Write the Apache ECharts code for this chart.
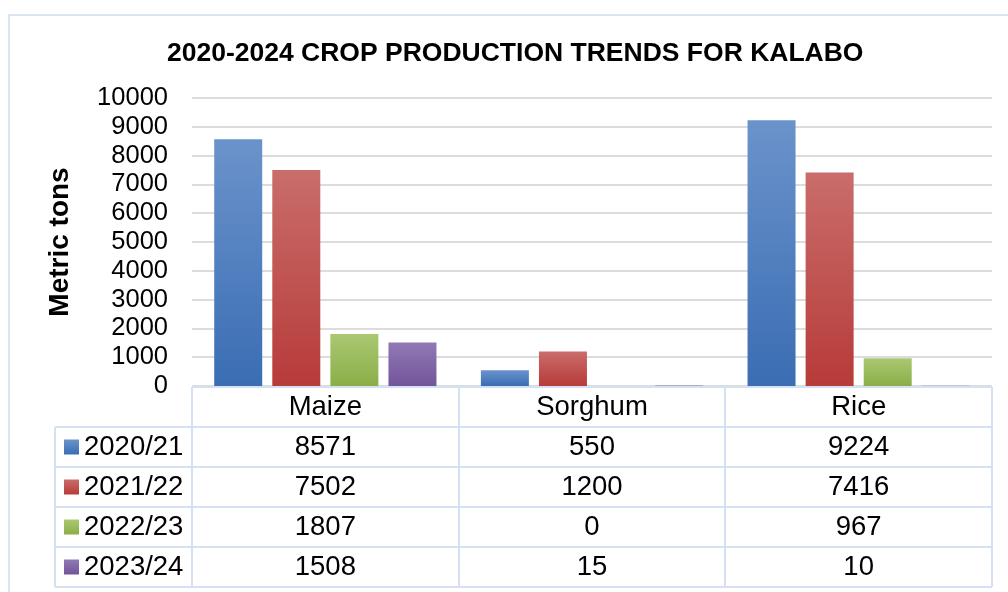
<!DOCTYPE html>
<html>
<head>
<meta charset="utf-8">
<script src="https://cdn.jsdelivr.net/npm/echarts@6/dist/echarts.min.js"></script>
<style>
  html, body { margin: 0; padding: 0; background: #fff; }
  #main { width: 1008px; height: 592px; }
</style>
</head>
<body>
<div id="main"></div>
<script>
// data
const crops = ['Maize', 'Sorghum', 'Rice']
const seasons = ['2020/21', '2021/22', '2022/23', '2023/24']
const season2020 = [8571, 550, 9224]
const season2021 = [7502, 1200, 7416]
const season2022 = [1807, 0, 967]
const season2023 = [1508, 15, 10]
const yMin = 0
const yMax = 10000
const yStep = 1000

const values = [season2020, season2021, season2022, season2023]
const topColors = ['#6b93cb', '#c96d6b', '#aac872', '#9079b5']
const bottomColors = ['#3a6db3', '#b73b39', '#8bae47', '#74549a']

const font = 'Liberation Sans, Arial, sans-serif'
const lineColor = '#d4e1f2'

// table geometry
const plotLeft = 192
const plotRight = 992
const tableTop = 387
const rowH = 40
const legendLeft = 55
const colW = (plotRight - plotLeft) / crops.length

const grad = (i) => new echarts.graphic.LinearGradient(0, 0, 0, 1, [
  { offset: 0, color: topColors[i] },
  { offset: 1, color: bottomColors[i] }
])

const graphics = []
// outer frame
graphics.push({
  type: 'rect', shape: { x: 9, y: 15, width: 1010, height: 600 },
  style: { fill: 'none', stroke: '#dae5f3', lineWidth: 2 }
})
const line = (x1, y1, x2, y2) => ({
  type: 'line', shape: { x1, y1, x2, y2 },
  style: { stroke: lineColor, lineWidth: 2 }, z: 10
})
graphics.push(line(plotLeft, tableTop, plotRight, tableTop))
for (let r = 1; r <= seasons.length + 1; r++) {
  const y = tableTop + r * rowH
  graphics.push(line(legendLeft, y, plotRight, y))
}
const tableBottom = tableTop + (seasons.length + 1) * rowH
for (let c = 0; c <= crops.length; c++) {
  const x = Math.round(plotLeft + c * colW)
  graphics.push(line(x, tableTop, x, tableBottom))
}
graphics.push(line(legendLeft, tableTop + rowH, legendLeft, tableBottom))

seasons.forEach((s, i) => {
  const cy = tableTop + rowH * (i + 1.5)
  graphics.push({
    type: 'rect', shape: { x: 64, y: cy - 7.5, width: 15, height: 15 },
    style: { fill: grad(i) }, z: 10
  })
  graphics.push({
    type: 'text', x: 84, y: cy,
    style: { text: s, font: '27.5px ' + font, fill: '#000', align: 'left', verticalAlign: 'middle' },
    z: 10
  })
  values[i].forEach((v, j) => {
    graphics.push({
      type: 'text', x: plotLeft + colW * (j + 0.5), y: cy,
      style: { text: String(v), font: '27.5px ' + font, fill: '#000', align: 'center', verticalAlign: 'middle' },
      z: 10
    })
  })
})

const chart = echarts.init(document.getElementById('main'))
chart.setOption({
  animation: false,
  backgroundColor: '#fff',
  title: {
    text: '2020-2024 CROP PRODUCTION TRENDS FOR KALABO',
    left: 162,
    top: 35,
    textStyle: { fontFamily: font, fontSize: 26.5, fontWeight: 'bold', color: '#000' }
  },
  grid: { left: plotLeft, right: 1008 - plotRight, top: 98, height: 288 },
  xAxis: {
    type: 'category',
    data: crops,
    axisLine: { show: false },
    axisTick: { show: false },
    axisLabel: { fontFamily: font, fontSize: 27.5, color: '#000', margin: 7 }
  },
  yAxis: {
    type: 'value',
    min: yMin,
    max: yMax,
    interval: yStep,
    name: 'Metric tons',
    nameLocation: 'middle',
    nameRotate: 90,
    nameGap: 118,
    nameTextStyle: { fontFamily: font, fontSize: 28, fontWeight: 'bold', color: '#000' },
    axisLine: { show: false },
    axisTick: { show: false },
    axisLabel: { fontFamily: font, fontSize: 25.5, color: '#000', margin: 24, formatter: (v) => String(v) },
    splitLine: { lineStyle: { color: '#dcdcdc', width: 2 } }
  },
  series: seasons.map((s, i) => ({
    name: s,
    type: 'bar',
    data: values[i],
    barWidth: 48,
    barGap: '21%',
    itemStyle: { color: grad(i) }
  })),
  graphic: graphics
})
</script>
</body>
</html>
